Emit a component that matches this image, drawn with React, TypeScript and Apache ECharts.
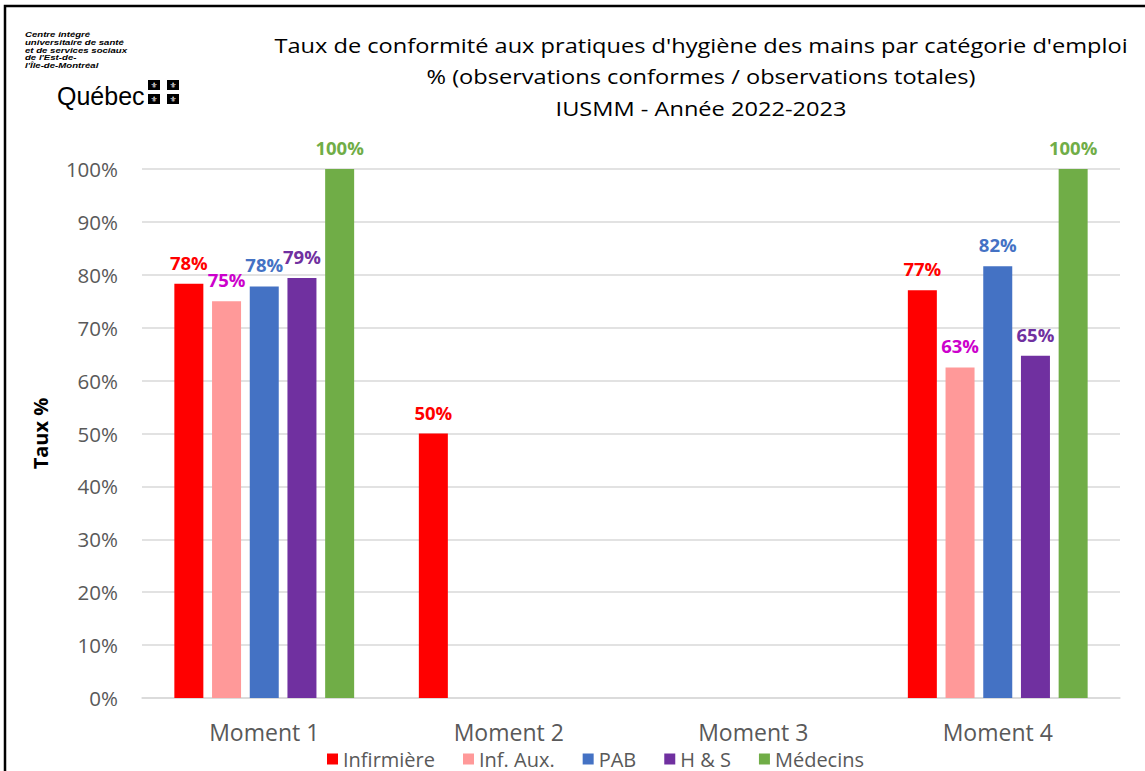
import React, { useEffect, useRef } from "react";
import * as echarts from "echarts";

const categories = ["Moment 1", "Moment 2", "Moment 3", "Moment 4"];
const seriesNames = ["Infirmière", "Inf. Aux.", "PAB", "H & S", "Médecins"];
const infirmiere = [78.3, 50, null, 77.1];
const infAux = [75, null, null, 62.5];
const pab = [77.8, null, null, 81.6];
const hs = [79.4, null, null, 64.7];
const medecins = [100, null, null, 100];
const yTicks = [0, 10, 20, 30, 40, 50, 60, 70, 80, 90, 100];
const titleLines = [
  "Taux de conformité aux pratiques d'hygiène des mains par catégorie d'emploi",
  "% (observations conformes / observations totales)",
  "IUSMM - Année 2022-2023",
];
const logoLines = [
  "Centre intégré",
  "universitaire de santé",
  "et de services sociaux",
  "de l'Est-de-",
  "l'Île-de-Montréal",
];

const barColors = ["#FF0000", "#FF9999", "#4472C4", "#7030A0", "#70AD47"];
const labelColors = ["#FF0000", "#CC00CC", "#4472C4", "#7030A0", "#70AD47"];
const FONT = "'Open Sans', sans-serif";

export default function App() {
  const ref = useRef<HTMLDivElement>(null);
  useEffect(() => {
    if (!ref.current) return;
    const chart = echarts.init(ref.current, null, { renderer: "svg" });
    const datasets = [infirmiere, infAux, pab, hs, medecins];
    const flagSquares: any[] = [];
    const sq = [
      [148, 80],
      [167, 80],
      [148, 94],
      [167, 94],
    ];
    sq.forEach(([x, y]) => {
      flagSquares.push({
        type: "rect",
        shape: { x, y, width: 12, height: 10 },
        style: { fill: "#000" },
      });
      flagSquares.push({
        type: "text",
        x: x + 6,
        y: y + 5,
        style: {
          text: "⚜",
          fill: "#fff",
          font: "8px 'DejaVu Sans'",
          align: "center",
          verticalAlign: "middle",
        },
      });
    });
    chart.setOption({
      animation: false,
      backgroundColor: "#fff",
      textStyle: { fontFamily: FONT },
      grid: { left: 142, right: 25, top: 169, bottom: 73 },
      graphic: [
        {
          type: "rect",
          shape: { x: 5, y: 6, width: 1150, height: 780 },
          style: { fill: "none", stroke: "#000", lineWidth: 2.5 },
          silent: true,
        },
        ...titleLines.map((t, i) => ({
          type: "text",
          x: 701,
          y: 45 + i * 31.5,
          scaleX: 1.18,
          style: {
            text: t,
            fill: "#000",
            font: `20px ${FONT}`,
            align: "center",
            verticalAlign: "middle",
          },
        })),
        {
          type: "text",
          x: 25,
          y: 31,
          scaleX: 1.3,
          style: {
            text: logoLines.join("\n"),
            fill: "#000",
            font: `italic bold 7.4px 'Liberation Sans', sans-serif`,
            lineHeight: 7.6,
            align: "left",
            verticalAlign: "top",
          },
        },
        {
          type: "text",
          x: 57,
          y: 96,
          style: {
            text: "Québec",
            fill: "#000",
            font: `25px 'Liberation Sans', sans-serif`,
            align: "left",
            verticalAlign: "middle",
          },
        },
        ...flagSquares,
      ],
      legend: {
        left: 322,
        top: 744,
        itemWidth: 11,
        itemHeight: 11,
        itemGap: 28,
        icon: "rect",
        textStyle: {
          color: "#595959",
          fontSize: 20,
          lineHeight: 20,
          fontFamily: FONT,
        },
        data: seriesNames,
      },
      xAxis: {
        type: "category",
        data: categories,
        axisLine: { lineStyle: { color: "#d9d9d9", width: 1.5 } },
        axisTick: { show: false },
        axisLabel: {
          color: "#595959",
          fontSize: 23,
          lineHeight: 22,
          margin: 23,
          fontFamily: FONT,
        },
      },
      yAxis: {
        type: "value",
        min: 0,
        max: 100,
        interval: 10,
        name: "Taux %",
        nameLocation: "middle",
        nameGap: 92,
        nameTextStyle: { color: "#000", fontSize: 20, fontWeight: "bold", fontFamily: FONT },
        axisLabel: {
          color: "#595959",
          fontSize: 20.5,
          margin: 24,
          fontFamily: FONT,
          formatter: (v: number) => (yTicks.includes(v) ? `${v}%` : ""),
        },
        splitLine: { lineStyle: { color: "#d9d9d9", width: 1.5 } },
        axisLine: { show: false },
        axisTick: { show: false },
      },
      series: seriesNames.map((name, i) => ({
        name,
        type: "bar",
        data: datasets[i],
        barWidth: 29,
        barGap: "30%",
        itemStyle: { color: barColors[i] },
        label: {
          show: true,
          position: "top",
          distance: 12,
          color: labelColors[i],
          fontSize: 18.5,
          fontWeight: "bold",
          fontFamily: FONT,
          formatter: (p: any) => `${Math.round(p.value)}%`,
        },
      })),
    });
    return () => chart.dispose();
  }, []);
  return (
    <div
      ref={ref}
      style={{ position: "fixed", left: 0, top: 0, width: 1145, height: 771 }}
    />
  );
}
